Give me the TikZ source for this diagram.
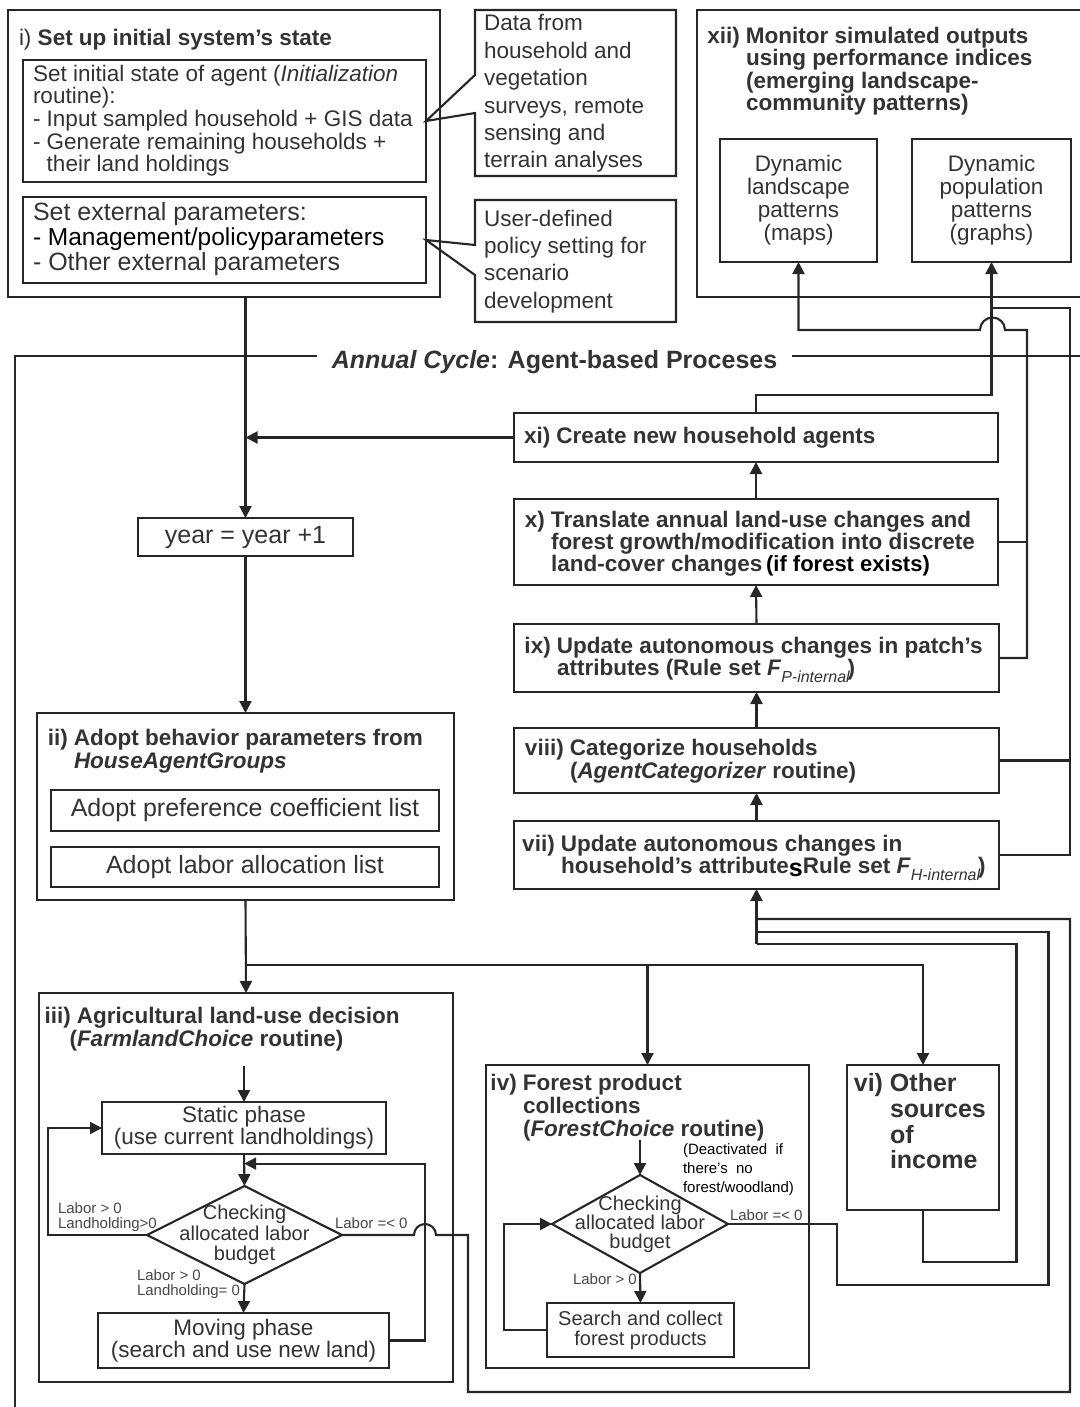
\documentclass[tikz,border=0pt]{standalone}
\usepackage{fontspec}
\setmainfont{Liberation Sans}
\usetikzlibrary{arrows.meta,shapes.geometric,calc}
\definecolor{ink}{gray}{0.2}
\definecolor{wirec}{gray}{0.15}
\newcommand\fsz[2]{\fontsize{#1}{#2}\selectfont}

\begin{document}
\begin{tikzpicture}[x=1pt,y=-1pt,
  frame/.style={draw=wirec,line width=2.1pt,inner sep=0pt,outer sep=0pt,anchor=north west,text=ink,align=center},
  wire/.style={draw=wirec,line width=2.1pt},
  flow/.style={wire,-{Triangle[length=12pt,width=12pt]}},
  txt/.style={text=ink,inner sep=0pt,outer sep=0pt,anchor=north west,align=left},
  head/.style={txt,font=\fsz{22.5}{#1}\bfseries},
  head/.default=22.5,
  plain/.style={txt,font=\fsz{22.5}{#1}},
  plain/.default=22.5,
  small/.style={txt,font=\fsz{15}{15},text=black!72},
  check/.style={draw=wirec,line width=2.1pt,diamond,inner sep=0pt,outer sep=0pt},
]
\useasboundingbox (0,0) rectangle (1079,1407);

% ---------- i) initial system state ----------
\node[frame,minimum width=432,minimum height=287] (init) at (8,10) {};
\node[plain] (initT) at (19,28.7) {i) \textbf{Set up initial system's state}};
\node[frame,minimum width=403,minimum height=122] (in1) at (23,60) {};
\node[plain=22.7] (in1T) at (33,64.7) {Set initial state of agent (\textit{Initialization}\\routine):\\- Input sampled household + GIS data\\- Generate remaining households +\\\phantom{- }their land holdings};
\node[frame,minimum width=403,minimum height=86] (in2) at (23,197) {};
\node[txt,font=\fsz{25}{25}] (in2T) at (33,202.7) {Set external parameters:\\{\color{black}\fsz{24.5}{25}- Management/policyparameters}\\- Other external parameters};

% ---------- data sources (callouts) ----------
\node[anchor=north west,minimum width=201,minimum height=166,inner sep=0pt,outer sep=0pt] (data) at (475,10) {};
\draw[wire] ($(data.north west)+(0,65)$) -- (data.north west) -- (data.north east) -- (data.south east) -- (data.south west) -- ($(data.north west)+(0,103)$) -- (in1.east) -- cycle;
\node[plain=27.4] (dataT) at (484,14.7) {Data from\\household and\\vegetation\\surveys, remote\\sensing and\\terrain analyses};

\node[anchor=north west,minimum width=201,minimum height=122,inner sep=0pt,outer sep=0pt] (user) at (475,200) {};
\draw[wire] ($(user.north west)+(0,45)$) -- (user.north west) -- (user.north east) -- (user.south east) -- (user.south west) -- ($(user.north west)+(0,75)$) -- (in2.east) -- cycle;
\node[plain=27.4] (userT) at (484,209.7) {User-defined\\policy setting for\\scenario\\development};

% ---------- xii) monitoring ----------
\node[frame,minimum width=403,minimum height=287] (mon) at (697,10) {};
\node[head] (monT) at (746,26.7) {\llap{xii)~}Monitor simulated outputs\\using performance indices\\(emerging landscape-\\community patterns)};
\node[frame,minimum width=157,minimum height=123,font=\fsz{22.5}{23}] (land) at (720,139) {Dynamic\\landscape\\patterns\\(maps)};
\node[frame,minimum width=159,minimum height=123,font=\fsz{22.5}{23}] (pop) at (912,139) {Dynamic\\population\\patterns\\(graphs)};

% ---------- annual cycle frame ----------
\coordinate (cyc) at (15,356);
\node[text=ink,inner sep=0pt,inner xsep=15pt,anchor=base,font=\fsz{25}{25}\bfseries] (cycle) at (554.5,368) {\textit{Annual Cycle}: Agent-based Proceses};
\draw[wire] (cycle.west |- cyc) -- (cyc) -- (15,1415);
\draw[wire] (cycle.east |- cyc) -- (1090,356);

% ---------- left spine ----------
\node[frame,minimum width=215,minimum height=38,font=\fsz{25}{25}] (year) at (138,518) {year = year +1};
\node[frame,minimum width=417,minimum height=187] (ii) at (37,713) {};
\node[head=23] (iiT) at (74,728.7) {\llap{ii)~}Adopt behavior parameters from\\\textit{HouseAgentGroups}};
\node[frame,minimum width=388,minimum height=41,font=\fsz{25}{25}] (pref) at (51,790) {Adopt preference coefficient list};
\node[frame,minimum width=388,minimum height=40,font=\fsz{25}{25}] (labor) at (51,847) {Adopt labor allocation list};

\draw[flow] (init.south -| year.north) -- (year.north);
\draw[flow] (year.south) -- (ii.north);

% ---------- iii) agricultural decision ----------
\node[frame,minimum width=414,minimum height=389] (iii) at (39,993) {};
\node[head=23] (iiiT) at (77,1006.7) {\llap{iii)~}Agricultural land-use decision\\\llap{(}\textit{FarmlandChoice} routine)};
\node[frame,minimum width=284,minimum height=52,font=\fsz{22.5}{22}] (static) at (102,1102) {Static phase\\(use current landholdings)};
\node[check,minimum width=195,minimum height=98] (agchk) at (244.5,1235) {};
\node[text=ink,inner sep=0pt,align=center,font=\fsz{20}{20.5}] (agchkT) at (agchk.center) {Checking\\allocated labor\\budget};
\node[frame,minimum width=291,minimum height=55,font=\fsz{22.5}{22}] (moving) at (98,1313) {Moving phase\\(search and use new land)};
\coordinate (agjoin) at ($(static.south)!0.3!(agchk.north)$);

\draw[flow] ($(static.north)+(0,-36)$) -- (static.north);
\draw[flow] (static.south) -- (agchk.north);
\draw[flow] (agchk.south) -- (moving.north);
\draw[flow] (agchk.west) -- ++(-99,0) |- (static.west);
\draw[flow] (moving.east) -| ($(agjoin)+(181,0)$) -- (agjoin);
\node[small] (agL1) at ($(agchk.west)+(-89,-32.5)$) {Labor > 0\\Landholding>0};
\node[small] (agL2) at ($(agchk.east)+(-7,-17.5)$) {Labor =< 0};
\node[small] (agL3) at ($(agchk.south)+(-107.5,-14.5)$) {Labor > 0\\Landholding= 0};

% ---------- iv) forest products ----------
\node[frame,minimum width=323,minimum height=303] (iv) at (486,1065) {};
\node[head=23] (ivT) at (523,1073.7) {\llap{iv)~}Forest product\\collections\\(\textit{ForestChoice} routine)};
\node[check,minimum width=176,minimum height=98] (fochk) at (640,1224) {};
\node[text=ink,inner sep=0pt,align=center,font=\fsz{20}{18.5}] (fochkT) at (fochk.center) {Checking\\allocated labor\\budget};
\node[frame,minimum width=187,minimum height=54,font=\fsz{20}{20}] (search) at (547,1303) {Search and collect\\forest products};
\node[txt,text=black,font=\fsz{15}{19}] (deact) at (683,1143.5) {(Deactivated\ \ if\\there’s\ \ no\\forest/woodland)};

\draw[flow] ($(fochk.north)+(0,-35)$) -- (fochk.north);
\draw[flow] (fochk.south) -- (search.north);
\draw[flow] (search.west) -- ++(-43,0) |- (fochk.west);
\node[small] (foL1) at ($(fochk.east)+(2,-14.5)$) {Labor =< 0};
\node[small] (foL2) at ($(fochk.south)+(-67,0.5)$) {Labor > 0};

% ---------- vi) other income ----------
\node[frame,minimum width=152,minimum height=145] (vi) at (847,1065) {};
\node[txt,font=\fsz{25}{25.7}\bfseries] (viT) at (890,1073.7) {\llap{vi)~}Other\\sources\\of\\income};

% branches from ii
\coordinate (fork) at ($(ii.south)+(0,65)$);
\draw[flow] (ii.south) -- (iii.north);
\draw[flow] (fork) -| (vi.north);
\draw[flow] (fork -| iv.north) -- (iv.north);

% ---------- right column: vii ... xi ----------
\node[frame,minimum width=484,minimum height=49] (xi) at (514,413) {};
\node[head] (xiT) at (524,426.7) {xi) Create new household agents};
\node[frame,minimum width=484,minimum height=86] (x) at (514,499) {};
\node[head=22] (xT) at (551,510.7) {\llap{x)~}Translate annual land-use changes and\\forest growth/modification into discrete\\land-cover changes\,{\color{black}\fsz{22}{22}(if forest exists)}};
\node[frame,minimum width=485,minimum height=68] (ix) at (514,624) {};
\node[head=22] (ixT) at (557,636.7) {\llap{ix)~}Update autonomous changes in patch's\\attributes (Rule set \textit{F}\raisebox{-7pt}{\fsz{16}{16}\mdseries\itshape P-internal}\kern-2pt)};
\node[frame,minimum width=485,minimum height=65] (viii) at (514,728) {};
\node[head=23] (viiiT) at (570,738.7) {\llap{viii)~}Categorize households\\(\textit{AgentCategorizer} routine)};
\node[frame,minimum width=485,minimum height=68] (vii) at (514,821) {};
\node[head=22] (viiT) at (561,834.7) {\llap{vii)~}Update autonomous changes in\\household's attribute{\color{black}\raisebox{-3pt}{\fsz{25}{25}s}}Rule set \textit{F}\raisebox{-7pt}{\fsz{16}{16}\mdseries\itshape H-internal}\kern-2pt)};

\draw[flow] (vii.north) -- (viii.south);
\draw[flow] (viii.north) -- (ix.south);
\draw[flow] (ix.north) -- (x.south);
\draw[flow] (x.north) -- (xi.south);
\draw[flow] (xi.west) -- (xi.west -| year.north);

% outputs to monitoring
\draw[flow] (ix.east) -| ($(land.south)+(228.5,68)$) -- ++(-22,0) arc[start angle=0,end angle=-180,radius=12.5] -| (land.south);
\draw[wire] (x.east) -- ++(29,0);
\draw[flow] (xi.north) -- ++(0,-18) -| (pop.south);
\draw[wire] (vii.east) -| ($(pop.south)+(78.5,46)$) -- ($(pop.south)+(0,46)$);
\draw[wire] (viii.east) -- ++(71,0);

% feedback of labor use into vii
\coordinate (viiin) at ($(vii.south)+(0,55)$);
\draw[wire] (vi.south) -- ++(0,52) -| ($(viiin)+(260,0)$) -- (viiin);
\draw[wire] (fochk.east) -| ($(fochk.east)+(109,61)$) -| ($(viiin)+(292,-12)$) -- ($(viiin)+(0,-12)$);
\draw[wire] (agchk.east) -- ++(72,0) arc[start angle=180,end angle=360,radius=11] -- ++(32,0) |- ($(viiin)+(313.5,448)$) -- ($(viiin)+(313.5,-25)$) -- ($(viiin)+(0,-25)$);
\draw[flow] (viiin) -- (vii.south);

\end{tikzpicture}
\end{document}
